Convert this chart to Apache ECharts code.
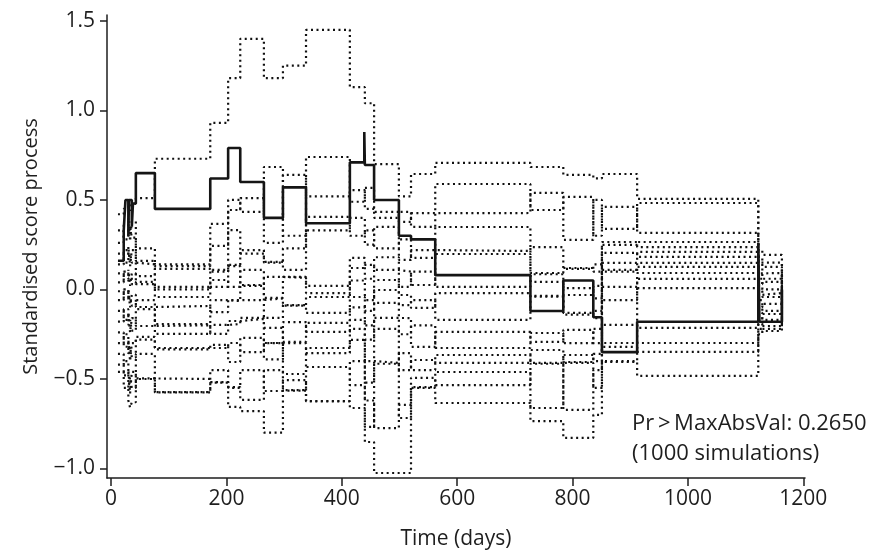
<!DOCTYPE html>
<html>
<head>
<meta charset="utf-8">
<script src="https://cdn.jsdelivr.net/npm/echarts@6/dist/echarts.min.js"></script>
<style>
html,body{margin:0;padding:0;background:#fff;}
#chart{width:873px;height:550px;}
</style>
</head>
<body>
<div id="chart"></div>
<script>
// Observed standardised score process (step function)
const obsDays = [12, 22, 25, 30, 31, 36, 38, 43, 76, 172, 203, 224, 265, 298, 338, 414, 439, 440, 456, 499, 520, 562, 727, 784, 836, 851, 912, 1122, 1124, 1163];
const observed = [0.16, 0.33, 0.50, 0.30, 0.50, 0.35, 0.48, 0.65, 0.45, 0.62, 0.79, 0.60, 0.40, 0.57, 0.37, 0.71, 0.88, 0.695, 0.50, 0.30, 0.28, 0.08, -0.12, 0.05, -0.155, -0.35, -0.18, 0.26, -0.18, 0.0];

// Simulated paths (shared event times)
const simDays = [12, 22, 30, 33, 36, 43, 76, 172, 203, 224, 265, 298, 338, 414, 440, 456, 499, 520, 562, 727, 784, 836, 851, 912, 1122, 1129, 1163];
const sim1  = [0.42, 0.45, 0.48, 0.44, 0.48, 0.51, 0.73, 0.93, 1.18, 1.40, 1.18, 1.25, 1.45, 1.13, 1.04, 0.70, 0.52, 0.645, 0.707, 0.684, 0.64, 0.62, 0.645, 0.506, 0.22, 0.193, 0];
const sim2  = [0.33, 0.28, 0.40, 0.27, 0.38, 0.16, 0.14, 0.243, 0.50, 0.433, 0.684, 0.30, 0.74, 0.49, 0.567, 0.40, 0.433, 0.35, 0.589, 0.444, 0.517, 0.30, 0.461, 0.316, 0.18, 0.126, 0];
const sim3  = [0.26, 0.36, 0.30, 0.35, 0.29, 0.23, 0.13, 0.366, 0.444, 0.51, 0.26, 0.64, 0.52, 0.555, 0.45, 0.433, 0.377, 0.426, 0.427, 0.539, 0.277, 0.50, 0.338, 0.483, 0.15, 0.15, 0];
const sim4  = [0.20, 0.15, 0.24, 0.13, 0.22, 0.075, 0.115, 0.10, 0.332, 0.20, 0.154, 0.109, 0.405, 0.30, 0.33, 0.23, 0.28, 0.176, 0.349, 0.092, 0.12, 0.10, 0.265, 0.237, 0.12, 0.06, 0];
const sim5  = [0.14, 0.22, 0.18, 0.20, 0.15, 0.14, 0.014, 0.109, 0.137, 0.22, 0.15, 0.23, 0.33, 0.40, 0.25, 0.35, 0.165, 0.22, 0.215, 0.237, 0.115, 0.14, 0.249, 0.265, 0.09, 0.092, 0];
const sim6  = [0.09, 0.05, 0.11, 0.02, 0.09, 0.03, 0.0, 0.014, 0.13, 0.025, 0.07, 0.065, 0.02, 0.12, 0.137, 0.109, 0.10, 0.025, 0.198, 0.042, 0.008, -0.05, 0.204, 0.182, 0.06, 0.0, 0];
const sim7  = [0.04, 0.10, 0.06, 0.07, 0.03, 0.042, -0.042, 0.053, 0.014, 0.109, -0.047, 0.07, -0.02, 0.176, 0.06, 0.18, 0.014, 0.10, 0.014, 0.085, -0.031, 0.02, 0.148, 0.21, 0.03, 0.042, 0];
const sim8  = [-0.01, -0.05, 0.00, -0.10, -0.03, -0.098, -0.092, -0.126, -0.059, -0.059, -0.05, -0.09, -0.042, -0.042, -0.06, -0.003, -0.031, -0.103, -0.02, -0.04, -0.131, -0.16, 0.109, 0.126, 0.0, -0.042, 0];
const sim9  = [-0.06, 0.00, -0.06, -0.04, -0.09, -0.059, -0.193, -0.059, -0.065, 0.02, -0.159, -0.087, -0.131, 0.05, -0.12, 0.053, -0.087, -0.059, -0.17, -0.036, -0.14, -0.12, 0.10, 0.148, -0.03, -0.02, 0];
const sim10 = [-0.12, -0.17, -0.13, -0.24, -0.16, -0.204, -0.20, -0.248, -0.176, -0.165, -0.215, -0.293, -0.187, -0.17, -0.20, -0.159, -0.16, -0.321, -0.237, -0.293, -0.226, -0.30, 0.014, 0.059, -0.06, -0.12, 0];
const sim11 = [-0.18, -0.11, -0.20, -0.17, -0.23, -0.11, -0.248, -0.198, -0.193, -0.159, -0.299, -0.182, -0.237, -0.10, -0.28, -0.075, -0.25, -0.20, -0.327, -0.243, -0.30, -0.22, -0.059, 0.092, -0.10, -0.08, 0];
const sim12 = [-0.24, -0.32, -0.28, -0.40, -0.30, -0.28, -0.327, -0.327, -0.299, -0.35, -0.30, -0.472, -0.327, -0.282, -0.40, -0.41, -0.355, -0.45, -0.366, -0.41, -0.366, -0.40, -0.198, -0.215, -0.13, -0.17, 0];
const sim13 = [-0.30, -0.25, -0.36, -0.32, -0.38, -0.265, -0.335, -0.31, -0.405, -0.27, -0.39, -0.30, -0.355, -0.22, -0.52, -0.22, -0.45, -0.394, -0.41, -0.338, -0.405, -0.36, -0.299, 0.008, -0.16, -0.137, 0];
const sim14 = [-0.36, -0.48, -0.45, -0.58, -0.46, -0.497, -0.50, -0.517, -0.545, -0.617, -0.45, -0.562, -0.433, -0.534, -0.62, -0.774, -0.645, -0.545, -0.461, -0.662, -0.41, -0.55, -0.321, -0.349, -0.19, -0.22, 0];
const sim15 = [-0.42, -0.40, -0.55, -0.49, -0.55, -0.36, -0.573, -0.45, -0.55, -0.45, -0.567, -0.506, -0.623, -0.40, -0.768, -0.415, -0.718, -0.494, -0.534, -0.415, -0.673, -0.45, -0.40, -0.299, -0.22, -0.204, 0];
const sim16 = [-0.46, -0.55, -0.62, -0.66, -0.63, -0.50, -0.575, -0.52, -0.656, -0.679, -0.80, -0.565, -0.625, -0.662, -0.852, -1.025, -1.025, -0.55, -0.634, -0.735, -0.829, -0.70, -0.405, -0.483, -0.25, -0.232, 0];

const xTicks = [0, 200, 400, 600, 800, 1000, 1200];
const yTicks = [-1.0, -0.5, 0.0, 0.5, 1.0, 1.5];
const annotation = ['Pr\u2009>\u2009MaxAbsVal: 0.2650', '(1000 simulations)'];

const sims = [sim1, sim2, sim3, sim4, sim5, sim6, sim7, sim8, sim9, sim10, sim11, sim12, sim13, sim14, sim15, sim16];
const FONT = 'Open Sans';
const INK = '#1e1e1e';

const series = sims.map((s, i) => ({
  name: 'sim' + (i + 1),
  type: 'line',
  step: 'end',
  symbol: 'none',
  silent: true,
  data: simDays.map((d, j) => [d, s[j]]),
  lineStyle: { color: '#111', width: 2.2, type: [2, 3.5] },
  z: 2
}));
series.push({
  name: 'observed',
  type: 'line',
  step: 'end',
  symbol: 'none',
  silent: true,
  data: obsDays.map((d, j) => [d, observed[j]]),
  lineStyle: { color: '#151515', width: 2.6, type: 'solid' },
  z: 5
});

const chart = echarts.init(document.getElementById('chart'), null, { renderer: 'canvas' });
chart.setOption({
  animation: false,
  backgroundColor: '#fff',
  textStyle: { fontFamily: FONT },
  grid: { left: 107, right: 68, top: 15, bottom: 72, containLabel: false, outerBoundsMode: 'none' },
  xAxis: {
    type: 'value', min: -7, max: 1203,
    name: 'Time (days)', nameLocation: 'middle', nameGap: 51,
    nameTextStyle: { fontFamily: FONT, fontSize: 21, color: INK },
    axisLine: { show: true, onZero: false, lineStyle: { color: INK, width: 1.5 } },
    axisTick: { show: true, customValues: xTicks, length: 8, lineStyle: { color: INK, width: 1.5 } },
    axisLabel: { customValues: xTicks, fontFamily: FONT, fontSize: 21, color: INK, margin: 11,
      formatter: v => String(v) },
    splitLine: { show: false }
  },
  yAxis: {
    type: 'value', min: -1.053, max: 1.533,
    name: 'Standardised score process', nameLocation: 'middle', nameGap: 66, nameRotate: 90,
    nameTextStyle: { fontFamily: FONT, fontSize: 20, color: INK },
    axisLine: { show: true, onZero: false, lineStyle: { color: INK, width: 1.5 } },
    axisTick: { show: true, customValues: yTicks, length: 7, lineStyle: { color: INK, width: 1.5 } },
    axisLabel: {
      customValues: yTicks, fontFamily: FONT, fontSize: 21, color: INK, margin: 12,
      formatter: v => (v < 0 ? '\u2212' : '') + Math.abs(v).toFixed(1)
    },
    splitLine: { show: false }
  },
  graphic: [
    { type: 'text', left: 632, top: 413, style: { text: annotation[0], font: '22px "Open Sans"', fill: INK } },
    { type: 'text', left: 632, top: 443, style: { text: annotation[1], font: '22px "Open Sans"', fill: INK } }
  ],
  series: series
});
</script>
</body>
</html>
